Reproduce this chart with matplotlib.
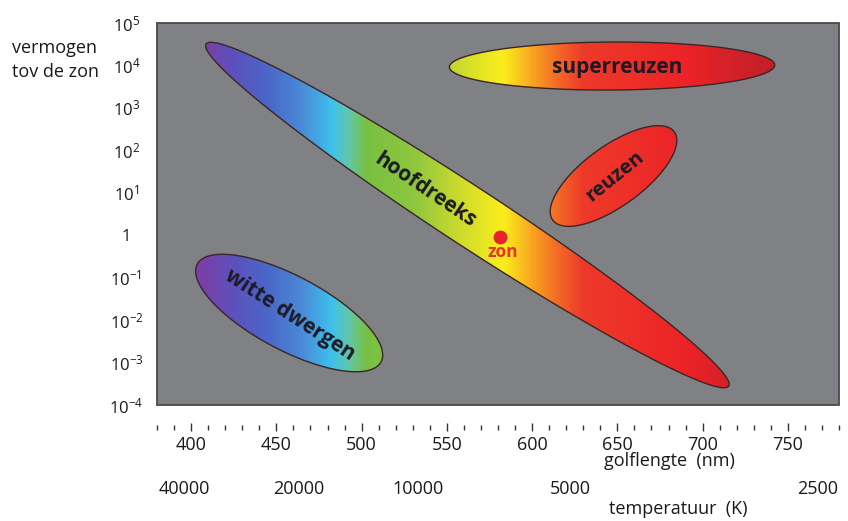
import numpy as np
import matplotlib
matplotlib.use('Agg')
import matplotlib.pyplot as plt
from matplotlib.colors import LinearSegmentedColormap, Normalize
from matplotlib.patches import PathPatch, Rectangle
from matplotlib.path import Path
from matplotlib.ticker import FixedLocator, MultipleLocator
from matplotlib.transforms import blended_transform_factory

plt.rcParams['font.family'] = ['Open Sans', 'DejaVu Sans']
plt.rcParams['mathtext.fontset'] = 'custom'
plt.rcParams['mathtext.rm'] = 'Open Sans'
plt.rcParams['mathtext.it'] = 'Open Sans'
plt.rcParams['mathtext.bf'] = 'Open Sans:bold'

# ---------------- data ----------------
wl_min, wl_max = 380, 780
wl_major = [400, 450, 500, 550, 600, 650, 700, 750]
y_exponents = [-4, -3, -2, -1, 0, 1, 2, 3, 4, 5]
y_labels = ['$10^{-4}$', '$10^{-3}$', '$10^{-2}$', '$10^{-1}$', '1',
            '$10^{1}$', '$10^{2}$', '$10^{3}$', '$10^{4}$', '$10^{5}$']
temp_labels = ['40000', '20000', '10000', '5000', '2500']
temp_wl = [396, 463, 533, 622.5, 767.5]

spectrum_wl = [380, 405, 425, 445, 465, 482, 492, 502, 530, 560, 583, 600, 615, 630, 690, 730, 780]
spectrum_col = ['#7a3fa8', '#7a3fa8', '#5c52bd', '#4a68c8', '#4a8cd8', '#3ec2ec', '#62c6a8',
                '#78c043', '#8dc63f', '#d2dd2a', '#fbee1c', '#f8a41f', '#f26a26',
                '#ee3a2a', '#ec2327', '#c9202a', '#b01e28']

region_names = ['hoofdreeks', 'witte dwergen', 'superreuzen', 'reuzen']
tip1_wl = [408.8, 403.6, 551.5, 612.1]
tip1_L = [10**4.505, 10**-0.683, 10**3.963, 10**0.356]
tip2_wl = [715.3, 511.4, 742.3, 683.4]
tip2_L = [10**-3.553, 10**-2.983, 10**4.01, 10**2.434]

label_wl = [537.4, 458.1, 650.1, 648.4]
label_L = [10**1.065, 10**-1.88, 10**3.963, 10**1.395]

sun_wl, sun_L = 581.4, 10**-0.042
sun_label_wl, sun_label_L = 582.6, 10**-0.396

# ---------------- styles ----------------
region_halfwidth_px = [29, 37, 24, 30]
label_rot = [-34, -33, 0, 39]
label_size = [15, 15, 15, 14.5]

fig = plt.figure(figsize=(8.48, 5.21), dpi=100)
ax = fig.add_axes([157/848, 1-405/521, (839-157)/848, (405-23)/521])
ax.set_yscale('log')
ax.set_xlim(wl_min, wl_max)
ax.set_ylim(1e-4, 1e5)
ax.set_autoscale_on(False)
ax.set_facecolor('#808184')
for s in ax.spines.values():
    s.set_visible(False)
ax.add_patch(Rectangle((0, 0), 1, 1, transform=ax.transAxes, fill=False,
                       edgecolor='#4a4a4c', lw=1.3, zorder=10, clip_on=False))

# x axis ticks below box
ax.spines['bottom'].set_position(('outward', 16))
ax.xaxis.set_major_locator(FixedLocator(wl_major))
ax.xaxis.set_minor_locator(MultipleLocator(10))
ax.tick_params(axis='x', which='major', direction='inout', length=6, width=1.0,
               color='#333333', labelsize=13, pad=3, labelcolor='#1a1a1a')
ax.tick_params(axis='x', which='minor', direction='inout', length=3.6, width=1.0,
               color='#333333')
ax.set_xticklabels([str(v) for v in wl_major])

# y axis
ax.yaxis.set_major_locator(FixedLocator([10.0**e for e in y_exponents]))
ax.yaxis.set_minor_locator(FixedLocator([]))
ax.set_yticklabels(y_labels)
ax.tick_params(axis='y', which='major', length=0, labelsize=12, pad=22,
               labelcolor='#1a1a1a')
for lab in ax.get_yticklabels():
    lab.set_horizontalalignment('center')

# colormap by wavelength
pos = [(w - wl_min) / (wl_max - wl_min) for w in spectrum_wl]
cmap = LinearSegmentedColormap.from_list('spec', list(zip(pos, spectrum_col)))
grad = np.linspace(wl_min, wl_max, 1200)[None, :]

fig.canvas.draw()
inv = ax.transData.inverted()
t = np.linspace(0, 2*np.pi, 400)
for i in range(len(region_names)):
    p1 = ax.transData.transform((tip1_wl[i], tip1_L[i]))
    p2 = ax.transData.transform((tip2_wl[i], tip2_L[i]))
    c = (p1 + p2) / 2
    d = p2 - p1
    a = np.hypot(*d) / 2
    u = d / (2*a)
    v = np.array([-u[1], u[0]])
    b = region_halfwidth_px[i]
    pts = c + np.outer(a*np.cos(t), u) + np.outer(b*np.sin(t), v)
    dpts = inv.transform(pts)
    path = Path(dpts, closed=True)
    im = ax.imshow(grad, extent=[wl_min, wl_max, 1e-4, 1e5], aspect='auto',
                   cmap=cmap, norm=Normalize(wl_min, wl_max), origin='lower',
                   interpolation='bilinear', zorder=2)
    patch = PathPatch(path, facecolor='none', edgecolor='#3b2626', lw=1.0, zorder=3)
    ax.add_patch(patch)
    im.set_clip_path(patch)
    ax.text(label_wl[i], label_L[i], region_names[i], rotation=label_rot[i],
            rotation_mode='anchor', ha='center', va='center', fontsize=label_size[i],
            fontweight='bold', color='#1c1a24', zorder=5)

ax.set_xlim(wl_min, wl_max)
ax.set_ylim(1e-4, 1e5)

# sun
ax.plot([sun_wl], [sun_L], 'o', color='#e8232a', markersize=9, zorder=6)
ax.text(sun_label_wl, sun_label_L, 'zon', color='#e8322a', fontsize=12.5,
        fontweight='bold', ha='center', va='center', zorder=6)

# axis texts
fig.text(12/848, 1-60/521, 'vermogen\ntov de zon', ha='left', va='center',
         fontsize=13, linespacing=1.45, color='#1a1a1a')
fig.text(669/848, 1-461/521, 'golflengte  (nm)', ha='center', va='center',
         fontsize=13, color='#1a1a1a')
tr = blended_transform_factory(ax.transData, fig.transFigure)
for lab, w in zip(temp_labels, temp_wl):
    ax.text(w, 1-489/521, lab, transform=tr, ha='center', va='center',
            fontsize=13, color='#1a1a1a', clip_on=False)
fig.text(678/848, 1-509/521, 'temperatuur  (K)', ha='center', va='center',
         fontsize=13, color='#1a1a1a')

fig.savefig('out.png', dpi=100)
